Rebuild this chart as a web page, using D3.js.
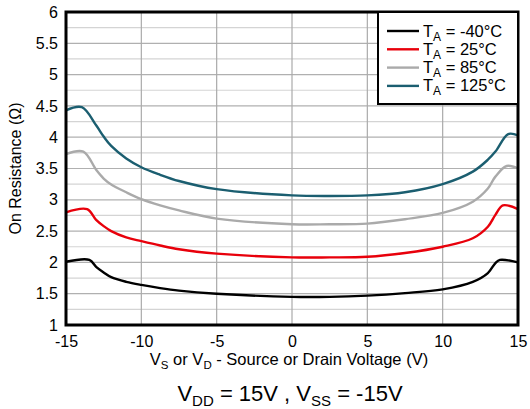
<!DOCTYPE html>
<html>
<head>
<meta charset="utf-8">
<script src="https://cdn.jsdelivr.net/npm/d3@7"></script>
<style>
	body{margin:0;background:#fff;}
	svg{display:block;font-family:Arial,"Liberation Sans",sans-serif;}
</style>
</head>
<body>
<svg id="chart" width="530" height="409"></svg>
<script>
// source/drain voltage sample points (V), one list per curve since the peaks shift
const vsM40 = [-15,-13.45,-13,-12.5,-12,-11,-10,-8.75,-7.5,-5,0,2.5,5,7.5,10,12,13,13.5,13.8,15];
const vs25  = [-15,-13.6,-13,-12.5,-12,-11,-10,-8.75,-7.5,-5,0,2.5,5,7.5,10,12,13,13.5,14.0,15];
const vs85  = [-15,-13.85,-13,-12.5,-12,-11,-10,-8.75,-7.5,-5,0,2.5,5,7.5,10,12,13,13.5,14.25,15];
const vs125 = [-15,-13.95,-13,-12.5,-12,-11,-10,-8.75,-7.5,-5,0,2.5,5,7.5,10,12,13,13.5,14.35,15];
// on resistance per temperature (ohm)
const rM40 = [2.01,2.04,1.93,1.84,1.765,1.69,1.64,1.59,1.55,1.50,1.45,1.45,1.47,1.51,1.57,1.69,1.83,1.99,2.04,2.00];
const r25  = [2.80,2.85,2.68,2.58,2.50,2.40,2.34,2.27,2.21,2.14,2.08,2.08,2.09,2.15,2.25,2.385,2.57,2.76,2.91,2.85];
const r85  = [3.73,3.77,3.48,3.34,3.245,3.12,3.01,2.91,2.83,2.70,2.61,2.61,2.62,2.69,2.79,2.97,3.18,3.37,3.54,3.50];
const r125 = [4.43,4.48,4.19,4.01,3.86,3.66,3.52,3.40,3.30,3.17,3.07,3.06,3.07,3.12,3.25,3.45,3.64,3.77,4.05,4.03];

const series = [
	{name:'-40', color:'#000000', x:vsM40, y:rM40},
	{name:'25', color:'#e8000b', x:vs25, y:r25},
	{name:'85', color:'#aaaaaa', x:vs85, y:r85},
	{name:'125', color:'#1b5e70', x:vs125, y:r125}
];
const xTicks = [-15,-10,-5,0,5,10,15];
const yTicks = [1,1.5,2,2.5,3,3.5,4,4.5,5,5.5,6];

const svg = d3.select('#chart');
const pLeft = 66, pRight = 518, pTop = 12, pBottom = 325;

const x = d3.scaleLinear().domain([-15,15]).range([pLeft,pRight]);
const y = d3.scaleLinear().domain([1,6]).range([pBottom,pTop]);

// horizontal grid every 0.25
const hGrid = d3.range(1.25,6,0.25);
svg.append('g')
	.selectAll('line')
	.data(hGrid)
	.join('line')
		.attr('x1',pLeft).attr('x2',pRight)
		.attr('y1',d=>y(d)).attr('y2',d=>y(d))
		.attr('stroke',d=>(Math.round(d*4)%2==0)?'#b0b0b0':'#d4d4d4')
		.attr('stroke-width',1.2);

// vertical grid
svg.append('g')
	.selectAll('line')
	.data(xTicks.slice(1,-1))
	.join('line')
		.attr('x1',d=>x(d)).attr('x2',d=>x(d))
		.attr('y1',pTop).attr('y2',pBottom)
		.attr('stroke','#aaaaaa')
		.attr('stroke-width',1.2);

// curves
const line = d3.line()
	.x(d=>x(d[0]))
	.y(d=>y(d[1]))
	.curve(d3.curveCatmullRom.alpha(0.5));

svg.append('g')
	.selectAll('path')
	.data(series)
	.join('path')
		.attr('d',s=>line(s.x.map((v,i)=>[v,s.y[i]])))
		.attr('fill','none')
		.attr('stroke',s=>s.color)
		.attr('stroke-width',2.4)
		.attr('stroke-linejoin','round');

// frame
svg.append('rect')
	.attr('x',pLeft).attr('y',pTop)
	.attr('width',pRight-pLeft).attr('height',pBottom-pTop)
	.attr('fill','none')
	.attr('stroke','#000')
	.attr('stroke-width',3);

// axes (labels only)
const xAxis = svg.append('g')
	.attr('transform','translate(0,'+pBottom+')')
	.call(d3.axisBottom(x).tickValues(xTicks).tickSize(0).tickPadding(11).tickFormat(d=>String(d)));
const yAxis = svg.append('g')
	.attr('transform','translate('+pLeft+',0)')
	.call(d3.axisLeft(y).tickValues(yTicks).tickSize(0).tickPadding(8).tickFormat(d=>String(d)));
[xAxis,yAxis].forEach(a=>{
	a.select('.domain').remove();
	a.selectAll('text')
		.attr('font-size',16)
		.attr('font-family','Arial,"Liberation Sans",sans-serif')
		.attr('fill','#000');
});

// axis titles
const xt = svg.append('text')
	.attr('x',(pLeft+pRight)/2 - 3)
	.attr('y',365)
	.attr('text-anchor','middle')
	.attr('font-size',16.5);
xt.append('tspan').text('V');
xt.append('tspan').attr('font-size',11.5).attr('dy',3.5).text('S');
xt.append('tspan').attr('dy',-3.5).text(' or V');
xt.append('tspan').attr('font-size',11.5).attr('dy',3.5).text('D');
xt.append('tspan').attr('dy',-3.5).text(' - Source or Drain Voltage (V)');

svg.append('text')
	.attr('transform','translate(21,'+((pTop+pBottom)/2)+') rotate(-90)')
	.attr('text-anchor','middle')
	.attr('font-size',16)
	.text('On Resistance (\u03A9)');

const bt = svg.append('text')
	.attr('x',(pLeft+pRight)/2 - 2)
	.attr('y',401)
	.attr('text-anchor','middle')
	.attr('font-size',22);
bt.append('tspan').text('V');
bt.append('tspan').attr('font-size',15).attr('dy',5).text('DD');
bt.append('tspan').attr('dy',-5).text(' = 15V , V');
bt.append('tspan').attr('font-size',15).attr('dy',5).text('SS');
bt.append('tspan').attr('dy',-5).text(' = -15V');

// legend
const lg = svg.append('g');
lg.append('rect')
	.attr('x',378).attr('y',pTop)
	.attr('width',pRight-378).attr('height',92)
	.attr('fill','#fff')
	.attr('stroke','#000')
	.attr('stroke-width',2);
const rows = lg.selectAll('g.row')
	.data(series)
	.join('g')
		.classed('row',true)
		.attr('transform',(d,i)=>'translate(0,'+(31+i*18.3)+')');
rows.append('line')
	.attr('x1',387).attr('x2',419)
	.attr('stroke',d=>d.color)
	.attr('stroke-width',2.4);
const lt = rows.append('text')
	.attr('x',423).attr('y',5.5)
	.attr('font-size',16.5);
lt.append('tspan').text('T');
lt.append('tspan').attr('font-size',12).attr('dy',4).text('A');
lt.append('tspan').attr('dy',-4).text(d=>' = '+d.name+'\u00B0C');
</script>
</body>
</html>
